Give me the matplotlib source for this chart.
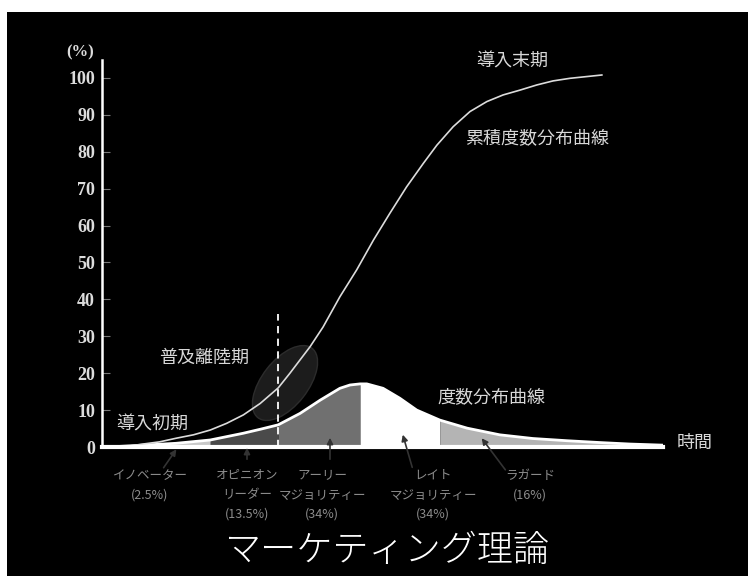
import numpy as np
import matplotlib
matplotlib.use("Agg")
import matplotlib.pyplot as plt
from matplotlib.patches import Ellipse, Rectangle, FancyArrowPatch

plt.rcParams['font.family'] = ['Noto Sans CJK JP', 'DejaVu Sans']

# ---- data ----
cum_t = [5.0, 7.3, 10.3, 13.3, 16.3, 19.3, 22.2, 25.2, 28.2, 31.4, 33.5, 37.1,
         39.4, 42.4, 45.4, 48.4, 51.3, 54.3, 57.3, 59.7, 62.6, 65.6, 68.6, 71.5,
         74.5, 77.5, 80.4, 83.4, 89.1]
cum_v = [0.3, 0.8, 1.4, 2.4, 3.3, 4.6, 6.4, 8.7, 11.8, 16.0, 20.0, 27.2,
         32.5, 40.7, 48.0, 56.1, 63.3, 70.5, 76.9, 81.8, 86.8, 90.9, 93.6, 95.4,
         96.7, 98.1, 99.2, 99.9, 100.8]

bell_t = [2.3, 7.3, 13.2, 19.3, 25.1, 28.2, 31.4, 35.3, 38.9, 42.4, 44.2, 46.0,
          47.2, 50.1, 53.1, 56.1, 60.2, 65.1, 70.9, 76.8, 82.9, 88.8, 94.1, 100.0]
bell_v = [0.1, 0.5, 1.0, 1.9, 3.7, 4.8, 6.0, 9.1, 12.7, 15.9, 16.8, 17.1,
          17.1, 15.9, 13.2, 10.0, 7.3, 5.1, 3.3, 2.3, 1.7, 1.2, 0.8, 0.5]

seg_names = ['イノベーター\n(2.5%)', 'オピニオン\nリーダー\n(13.5%)',
             'アーリー\nマジョリティー\n(34%)', 'レイト\nマジョリティー\n(34%)',
             'ラガード\n(16%)']
seg_bounds = [2.3, 19.3, 31.4, 46.0, 60.2, 94.1]
seg_colors = ['#c8c8c8', '#4a4a4a', '#707070', '#ffffff', '#b4b4b4']

yticks = [0, 10, 20, 30, 40, 50, 60, 70, 80, 90, 100]
dash_t = 31.4
dash_top = 36

W, H = 748, 576
fig = plt.figure(figsize=(W / 100, H / 100), dpi=100, facecolor='white')
# black slide background with thin white margins at top and left
bg = Rectangle((7 / W, 0), 1, (H - 12) / H, transform=fig.transFigure,
               facecolor='black', edgecolor='none', zorder=-10)
fig.patches.append(bg)

ax = fig.add_axes([102 / W, (H - 447) / H, 561 / W, 387.5 / H])
ax.set_facecolor('none')
ax.set_zorder(1)
ax.set_xlim(0, 100)
ax.set_ylim(0, 105)

# ellipse highlight (in figure inches)
ell = Ellipse((2.85, (H - 383) / 100), 0.88, 0.46, angle=52,
              transform=fig.dpi_scale_trans, facecolor='#1c1c1c',
              edgecolor='#2c2c2c', lw=1, zorder=1)
ax.add_artist(ell)

bt = np.array(bell_t)
bv = np.array(bell_v)
for i, c in enumerate(seg_colors):
    a, b = seg_bounds[i], seg_bounds[i + 1]
    m = (bt >= a - 1e-9) & (bt <= b + 1e-9)
    ax.fill_between(bt[m], 0, bv[m], color=c, lw=0, zorder=2)
ax.plot(bt, bv, color='white', lw=2, zorder=3, solid_joinstyle='round')

ax.plot(cum_t, cum_v, color='#dcdcdc', lw=1.2, zorder=4, solid_joinstyle='round')
ax.plot([dash_t, dash_t], [0, dash_top], color='white', lw=1.3,
        ls=(0, (4, 3)), zorder=4)

for s in ['top', 'right']:
    ax.spines[s].set_visible(False)
ax.spines['left'].set_color('white')
ax.spines['left'].set_linewidth(1.8)
ax.spines['bottom'].set_color('white')
ax.spines['bottom'].set_linewidth(3)
ax.spines['bottom'].set_zorder(5)
ax.set_xticks([])
ax.set_yticks(yticks)
ax.set_yticklabels([str(v) for v in yticks], family='Liberation Serif',
                   fontweight='bold', fontsize=13, color='#dcdcdc')
ax.tick_params(axis='y', direction='in', length=6, width=0.8, color='#777777', pad=5)

def ftext(px, py, s, **kw):
    fig.text(px / W, 1 - py / H, s, **kw)

ftext(80, 52, '(%)', family='Liberation Serif', fontweight='bold', fontsize=12,
      color='#dcdcdc', ha='center', va='center')

lab = dict(color='#d8d8d8', fontsize=13, ha='center', va='center')
ftext(512, 62, '導入末期', **lab)
ftext(537, 138, '累積度数分布曲線', **lab)
ftext(204, 358, '普及離陸期', **lab)
ftext(152, 425, '導入初期', **lab)
ftext(491, 397, '度数分布曲線', **lab)
ftext(695, 443, '時間', **lab)

# category labels with arrows
lab_x = [150, 247, 322, 433, 530]
lab_top = [469, 469, 469, 469, 469]
arrow_tail = [(162, 470), (247, 462), (330, 462), (413, 470), (507, 472)]
arrow_head = [(178, 447), (247, 445), (330, 435), (402, 432), (480, 436)]
for i, name in enumerate(seg_names):
    ftext(lab_x[i], lab_top[i], name, color='#8c8c8c', fontsize=9, ha='center',
          va='top', linespacing=1.65)
    tx, ty = arrow_tail[i]
    hx, hy = arrow_head[i]
    fig.patches.append(FancyArrowPatch(
        (tx / W, 1 - ty / H), (hx / W, 1 - hy / H), transform=fig.transFigure,
        arrowstyle='-|>', mutation_scale=9, color='#333333', lw=1.2, zorder=6))

ftext(388, 551, 'マーケティング理論', color='white', fontsize=26, ha='center',
      va='center', fontweight='light')

fig.savefig('out.png', dpi=100, facecolor=fig.get_facecolor())
